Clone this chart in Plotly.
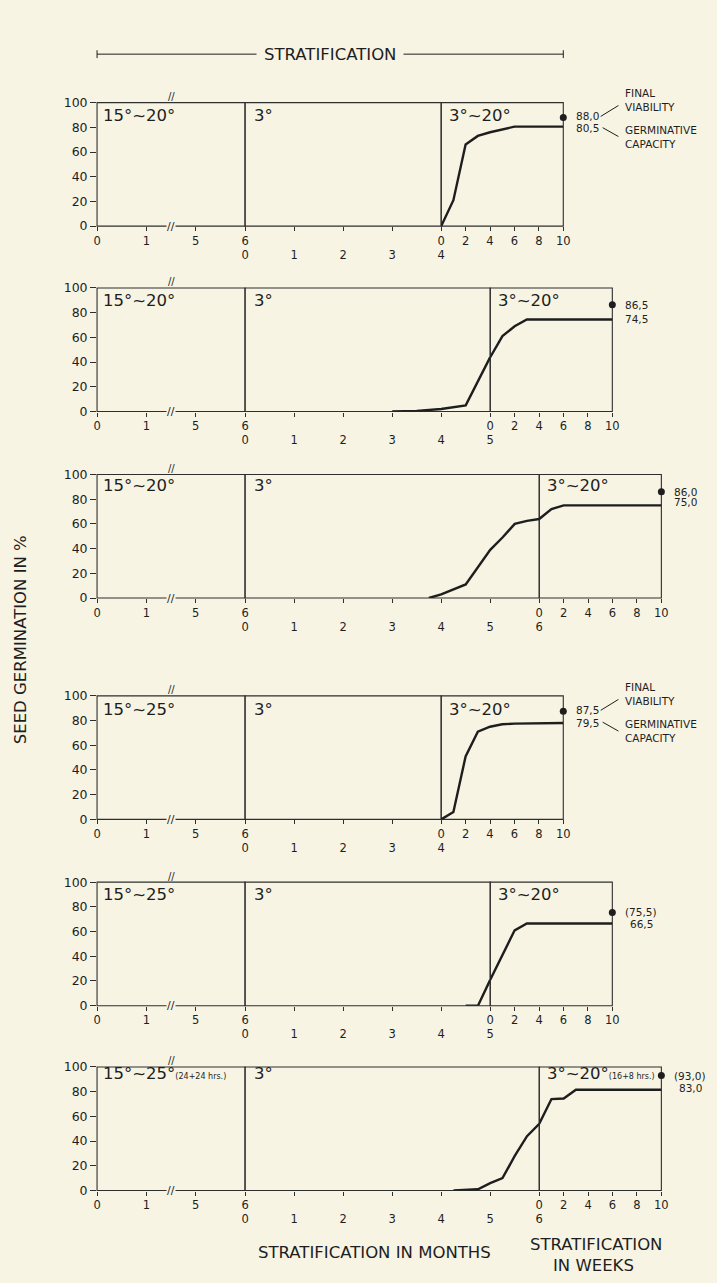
import plotly.graph_objects as go

# ---------------- data ----------------
warm_temp = ["15°~20°", "15°~20°", "15°~20°", "15°~25°", "15°~25°", "15°~25°"]
warm_note = ["", "", "", "", "", "(24+24 hrs.)"]
cold_temp = ["3°", "3°", "3°", "3°", "3°", "3°"]
incub_temp = ["3°~20°", "3°~20°", "3°~20°", "3°~20°", "3°~20°", "3°~20°"]
incub_note = ["", "", "", "", "", "(16+8 hrs.)"]
cold_months = [4, 5, 6, 4, 5, 6]          # length of the 3° period per panel
warm_tick_labels = ["0", "1", "5", "6"]   # broken month axis of the warm period
week_tick_vals = [0, 2, 4, 6, 8, 10]
pct_tick_vals = [0, 20, 40, 60, 80, 100]

# germination during cold stratification (x in months of the 3° period)
cold_x = [
    [],
    [3, 3.5, 4, 4.5, 5],
    [3.75, 4, 4.5, 5, 5.25, 5.5, 5.75, 6],
    [],
    [4.5, 4.75, 5],
    [4.25, 4.5, 4.75, 5, 5.25, 5.5, 5.75, 6],
]
cold_y = [
    [],
    [0, 0.5, 2, 5, 44],
    [0, 3, 11, 39, 49, 60, 62.5, 64],
    [],
    [0, 0, 21],
    [0, 0.3, 1, 6, 10, 28, 44, 54],
]
# germination during 3°~20° incubation (x in weeks)
week_x = [
    [0, 1, 2, 3, 4, 5, 6, 10],
    [0, 1, 2, 3, 10],
    [0, 1, 2, 10],
    [0, 1, 2, 3, 4, 5, 6, 10],
    [0, 1, 2, 3, 10],
    [0, 1, 2, 3, 10],
]
week_y = [
    [0, 21, 66, 73, 76, 78, 80.5, 80.5],
    [44, 61, 69, 74.5, 74.5],
    [64, 72, 75, 75],
    [0, 6, 51, 71, 75, 77, 77.5, 78],
    [21, 41, 61, 66.5, 66.5],
    [54, 74, 74.5, 81.5, 81.5],
]
final_viability = [88.0, 86.5, 86.0, 87.5, 75.5, 93.0]
germ_capacity = [80.5, 74.5, 75.0, 79.5, 66.5, 83.0]
viability_text = ["88,0", "86,5", "86,0", "87,5", "(75,5)", "(93,0)"]
capacity_text = ["80,5", "74,5", "75,0", "79,5", "66,5", "83,0"]
legend_panels = [0, 3]

# ---------------- layout constants (pixels) ----------------
W, H = 717, 1283
BG = "#f7f4e4"
INK = "#1e1e1e"
FRAME = "#2e2e2e"
FONT = "DejaVu Sans"

X_LEFT = 94.5
WARM_W = 150.3
MONTH_W = 49.8
WEEKS_W = 124.0
PANEL_TOP = [95.7, 283.3, 472.0, 696.0, 884.5, 1071.5]
PANEL_H = 125.0
LABEL_DROP = [12.5, 12.5, 11.5, 13.5, 12.5, 7.0]
VIA_SHIFT = [1.5, 0, 0, 1.5, 0, 0]
CAP_SHIFT = [-1.5, 0, 3, -1.5, 0, 0]


def px(x):
    return x / W


def py(y):
    return 1 - y / H


def nm(n):
    return "" if n == 1 else str(n)


fig = go.Figure()
layout = {}
shapes = []
annotations = []

for i in range(6):
    xw, xc, xk = 3 * i + 1, 3 * i + 2, 3 * i + 3
    yn = i + 1
    x_cold0 = X_LEFT + WARM_W
    x_week0 = x_cold0 + MONTH_W * cold_months[i]
    x_right = x_week0 + WEEKS_W
    top = PANEL_TOP[i]
    bot = top + PANEL_H

    def vpx(v):
        # pixel row of a percentage value in this panel (for leader lines)
        return bot - v / 100.0 * PANEL_H

    common = dict(showgrid=False, zeroline=False, showline=False, ticks="outside",
                  ticklen=4, tickwidth=1, tickcolor=FRAME, fixedrange=True,
                  tickfont=dict(family=FONT, size=11.5, color=INK),
                  anchor="y" + nm(yn))
    layout["xaxis" + nm(xw)] = dict(common, domain=[px(X_LEFT), px(x_cold0)], range=[0, 3],
                                    tickvals=list(range(len(warm_tick_labels))),
                                    ticktext=warm_tick_labels)
    layout["xaxis" + nm(xc)] = dict(common, domain=[px(x_cold0), px(x_week0)],
                                    range=[0, cold_months[i]],
                                    tickvals=list(range(cold_months[i] + 1)),
                                    ticklabelstandoff=14)
    layout["xaxis" + nm(xk)] = dict(common, domain=[px(x_week0), px(x_right)], range=[0, 10],
                                    tickvals=week_tick_vals)
    layout["yaxis" + nm(yn)] = dict(domain=[py(bot), py(top)], range=[0, 100],
                                    anchor="x" + nm(xw), tickvals=pct_tick_vals,
                                    ticks="outside", ticklen=6, tickwidth=1, tickcolor=FRAME,
                                    showgrid=False, zeroline=False, showline=False,
                                    fixedrange=True,
                                    tickfont=dict(family=FONT, size=12.5, color=INK))

    # frames / dividers
    for xa in (xw, xc, xk):
        shapes.append(dict(type="rect", xref="x" + nm(xa) + " domain",
                           yref="y" + nm(yn) + " domain", x0=0, x1=1, y0=0, y1=1,
                           line=dict(color=FRAME, width=1.1), layer="below"))

    # curves (cold trace always added so that its axis exists)
    fig.add_trace(go.Scatter(x=cold_x[i], y=cold_y[i], xaxis="x" + nm(xc),
                             yaxis="y" + nm(yn), mode="lines",
                             line=dict(color=INK, width=2.4), showlegend=False,
                             hoverinfo="skip"))
    fig.add_trace(go.Scatter(x=week_x[i], y=week_y[i], xaxis="x" + nm(xk),
                             yaxis="y" + nm(yn), mode="lines",
                             line=dict(color=INK, width=2.4), showlegend=False,
                             hoverinfo="skip"))
    fig.add_trace(go.Scatter(x=[10], y=[final_viability[i]], xaxis="x" + nm(xk),
                             yaxis="y" + nm(yn), mode="markers",
                             marker=dict(color=INK, size=7), cliponaxis=False,
                             showlegend=False, hoverinfo="skip"))

    # period labels
    def period_label(xa, text, note, shift):
        t = text
        if note:
            t += "<span style='font-size:8px'>" + note + "</span>"
        annotations.append(dict(xref="x" + nm(xa) + " domain", yref="y" + nm(yn) + " domain",
                                x=0, y=1, xanchor="left", yanchor="middle", xshift=shift,
                                yshift=-LABEL_DROP[i], text=t, showarrow=False,
                                font=dict(family=FONT, size=16.5, color=INK)))

    period_label(xw, warm_temp[i], warm_note[i], 4)
    period_label(xc, cold_temp[i], "", 7)
    period_label(xk, incub_temp[i], incub_note[i], 6)

    # break marks on the warm-period axis
    annotations.append(dict(xref="x" + nm(xw), yref="y" + nm(yn), x=1.5, y=0, text="//",
                            showarrow=False, bgcolor=BG, borderpad=0,
                            font=dict(family=FONT, size=11, color=INK)))
    annotations.append(dict(xref="x" + nm(xw), yref="y" + nm(yn), x=1.5, y=100, text="//",
                            showarrow=False, yshift=6,
                            font=dict(family=FONT, size=10, color=INK)))

    # value labels
    annotations.append(dict(xref="x" + nm(xk), yref="y" + nm(yn), x=10, y=final_viability[i],
                            text=viability_text[i], showarrow=False, xanchor="left",
                            yanchor="middle", xshift=11, yshift=VIA_SHIFT[i],
                            font=dict(family=FONT, size=10.5, color=INK)))
    cap_extra = 5 if viability_text[i].startswith("(") else 0
    annotations.append(dict(xref="x" + nm(xk), yref="y" + nm(yn), x=10, y=germ_capacity[i],
                            text=capacity_text[i], showarrow=False, xanchor="left",
                            yanchor="middle", xshift=11 + cap_extra, yshift=CAP_SHIFT[i],
                            font=dict(family=FONT, size=10.5, color=INK)))

    if i in legend_panels:
        yv = vpx(final_viability[i])
        yc = vpx(germ_capacity[i])
        shapes.append(dict(type="line", xref="paper", yref="paper",
                           x0=px(x_right + 38), x1=px(x_right + 56),
                           y0=py(yv - 1), y1=py(yv - 12),
                           line=dict(color=INK, width=1)))
        shapes.append(dict(type="line", xref="paper", yref="paper",
                           x0=px(x_right + 40), x1=px(x_right + 56),
                           y0=py(yc + 1), y1=py(yc + 10),
                           line=dict(color=INK, width=1)))
        annotations.append(dict(xref="x" + nm(xk), yref="y" + nm(yn), x=10,
                                y=final_viability[i], text="FINAL<br>VIABILITY",
                                showarrow=False, xanchor="left", yanchor="middle",
                                align="left", xshift=60, yshift=17,
                                font=dict(family=FONT, size=10.5, color=INK)))
        annotations.append(dict(xref="x" + nm(xk), yref="y" + nm(yn), x=10,
                                y=germ_capacity[i], text="GERMINATIVE<br>CAPACITY",
                                showarrow=False, xanchor="left", yanchor="middle",
                                align="left", xshift=60, yshift=-10,
                                font=dict(family=FONT, size=10.5, color=INK)))

# top "STRATIFICATION" bar across the first panel
bar_y = 46.7
bar_x1 = X_LEFT + WARM_W + MONTH_W * cold_months[0] + WEEKS_W
shapes.append(dict(type="line", xref="paper", yref="paper", x0=px(X_LEFT), x1=px(bar_x1),
                   y0=py(bar_y), y1=py(bar_y), line=dict(color=INK, width=1)))
for xe in (X_LEFT, bar_x1):
    shapes.append(dict(type="line", xref="paper", yref="paper", x0=px(xe), x1=px(xe),
                       y0=py(bar_y - 4), y1=py(bar_y + 4), line=dict(color=INK, width=1)))
annotations.append(dict(xref="paper", yref="paper", x=px((X_LEFT + bar_x1) / 2), y=py(bar_y),
                        xanchor="center", yanchor="middle",
                        text="STRATIFICATION", showarrow=False, bgcolor=BG, borderpad=7,
                        font=dict(family=FONT, size=16.5, color=INK)))

# axis titles
annotations.append(dict(xref="paper", yref="paper", x=px(17), y=py(639),
                        xanchor="center", yanchor="middle",
                        text="SEED GERMINATION IN %", textangle=-90, showarrow=False,
                        font=dict(family=FONT, size=16.5, color=INK)))
annotations.append(dict(xref="paper", yref="paper", x=px(376), y=py(1259),
                        xanchor="center", yanchor="middle",
                        text="STRATIFICATION IN MONTHS", showarrow=False,
                        font=dict(family=FONT, size=16.5, color=INK)))
annotations.append(dict(xref="paper", yref="paper", x=px(601), y=py(1251.5),
                        xanchor="center", yanchor="middle",
                        text="STRATIFICATION", showarrow=False,
                        font=dict(family=FONT, size=16.5, color=INK)))
annotations.append(dict(xref="paper", yref="paper", x=px(599), y=py(1272.5),
                        xanchor="center", yanchor="middle",
                        text="IN WEEKS", showarrow=False,
                        font=dict(family=FONT, size=16.5, color=INK)))

fig.update_layout(
    width=W, height=H,
    margin=dict(l=0, r=0, t=0, b=0),
    paper_bgcolor=BG, plot_bgcolor=BG,
    showlegend=False, hovermode=False,
    shapes=shapes, annotations=annotations,
    **layout,
)

fig.write_html("out.html")
